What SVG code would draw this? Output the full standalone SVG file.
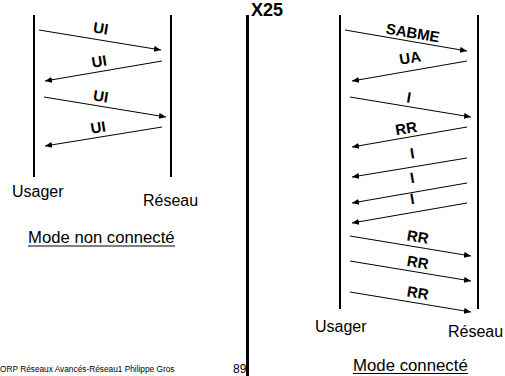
<svg xmlns="http://www.w3.org/2000/svg" width="505" height="376" viewBox="0 0 505 376">
<defs>
<marker id="ah" markerUnits="userSpaceOnUse" markerWidth="7" markerHeight="6" refX="7" refY="3" orient="auto">
<path d="M0,0 L7,3 L0,6 z" fill="#000"/>
</marker>
<style>
.life{stroke:#000;stroke-width:2;fill:none}
.msg{stroke:#000;stroke-width:1;fill:none;marker-end:url(#ah)}
.lbl{font-family:"Liberation Sans",Arial,sans-serif;font-weight:bold;font-size:15px;text-anchor:middle;fill:#000}
.name{font-family:"Liberation Sans",Arial,sans-serif;font-size:16px;fill:#000}
.ul{stroke:#000;stroke-width:1}
</style>
</defs>
<rect width="505" height="376" fill="#fff"/>

<g id="left-usager"><line class="life" x1="34" y1="15" x2="34" y2="177"/><text class="name" x="12" y="197">Usager</text></g>
<g id="left-reseau"><line class="life" x1="171" y1="15" x2="171" y2="177"/><text class="name" x="143" y="206">Réseau</text></g>
<g id="left-title"><text class="name" x="28" y="243" style="font-size:16.7px">Mode non connecté</text><line class="ul" x1="28" y1="246" x2="175" y2="246"/></g>

<g id="divider"><line x1="247.5" y1="15" x2="247.5" y2="376" stroke="#000" stroke-width="3"/></g>
<g id="x25-title"><text x="251" y="15.5" style="font-family:'Liberation Sans',Arial,sans-serif;font-weight:bold;font-size:18px">X25</text></g>

<g id="right-usager"><line class="life" x1="340" y1="15" x2="340" y2="309"/><text class="name" x="315" y="332">Usager</text></g>
<g id="right-reseau"><line class="life" x1="478" y1="15" x2="478" y2="309"/><text class="name" x="448" y="337">Réseau</text></g>
<g id="right-title"><text class="name" x="353" y="371" style="font-size:16.8px">Mode connecté</text><line class="ul" x1="353" y1="373.5" x2="468" y2="373.5"/></g>

<g id="footer">
<text x="0" y="371.5" style="font-family:'Liberation Sans',Arial,sans-serif;font-size:8.3px">ORP Réseaux Avancés-Réseau1 Philippe Gros</text>
<text x="233" y="372.5" style="font-family:'Liberation Sans',Arial,sans-serif;font-size:12px">89</text>
</g>

<g id="connectors">
<line class="msg" x1="39" y1="30" x2="161" y2="50"/>
<line class="msg" x1="162" y1="61" x2="45" y2="81"/>
<line class="msg" x1="44" y1="97" x2="166" y2="117"/>
<line class="msg" x1="162" y1="127" x2="45" y2="146"/>

<line class="msg" x1="345" y1="30" x2="467" y2="51"/>
<line class="msg" x1="467" y1="61" x2="352" y2="81"/>
<line class="msg" x1="350" y1="97" x2="471" y2="117"/>
<line class="msg" x1="467" y1="127" x2="352" y2="147"/>
<line class="msg" x1="467" y1="158" x2="352" y2="177"/>
<line class="msg" x1="467" y1="183" x2="352" y2="203"/>
<line class="msg" x1="467" y1="203" x2="352" y2="223"/>
<line class="msg" x1="350" y1="236" x2="471" y2="256"/>
<line class="msg" x1="350" y1="261" x2="471" y2="281"/>
<line class="msg" x1="350" y1="292" x2="471" y2="312"/>
</g>

<g id="labels">
<text class="lbl" transform="translate(100,33.5) rotate(9.3)">UI</text>
<text class="lbl" transform="translate(100,66.5) rotate(-9.3)">UI</text>
<text class="lbl" transform="translate(100,101.5) rotate(9.3)">UI</text>
<text class="lbl" transform="translate(99,132.5) rotate(-9.3)">UI</text>

<text class="lbl" transform="translate(412,38) rotate(9.5)">SABME</text>
<text class="lbl" transform="translate(411,63) rotate(-9.5)">UA</text>
<text class="lbl" transform="translate(408,102.5) rotate(9.5)">I</text>
<text class="lbl" transform="translate(407,133.5) rotate(-9.5)">RR</text>
<text class="lbl" transform="translate(413,158.5) rotate(-9.5)">I</text>
<text class="lbl" transform="translate(413,183) rotate(-9.5)">I</text>
<text class="lbl" transform="translate(413,204) rotate(-9.5)">I</text>
<text class="lbl" transform="translate(417,242) rotate(9.5)">RR</text>
<text class="lbl" transform="translate(417,267.5) rotate(9.5)">RR</text>
<text class="lbl" transform="translate(417,298) rotate(9.5)">RR</text>
</g>
</svg>
